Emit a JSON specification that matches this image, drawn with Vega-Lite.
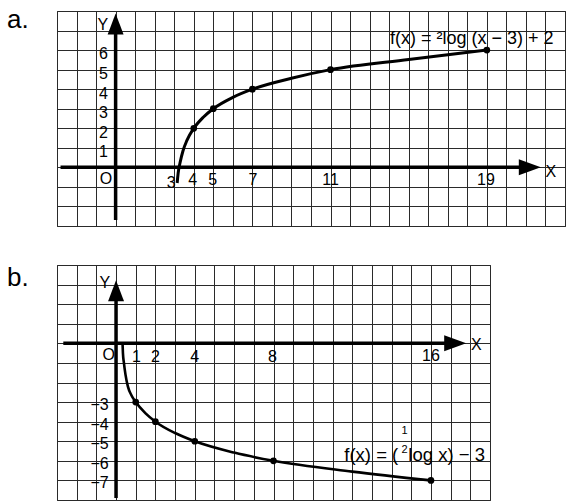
{
  "$schema": "https://vega.github.io/schema/vega-lite/v6.json",
  "background": "white",
  "padding": {"left": 6, "top": 6, "right": 5, "bottom": 5},
  "autosize": {"type": "pad"},
  "bounds": "flush",
  "spacing": 39,
  "config": {
    "view": {"stroke": "#222", "strokeWidth": 1},
    "axis": {"grid": true, "labels": false, "ticks": false, "domain": false, "gridColor": "#2a2a2a", "gridOpacity": 1, "gridWidth": 1},
    "text": {"font": "Liberation Sans", "color": "black"}
  },
  "datasets": {
    "a_axes": [{"x": -2.82, "x2": 20.8, "y": 0, "y2": 0}, {"x": 0, "x2": 0, "y": -2.69, "y2": 6.9}],
    "a_arrows": [{"x": 21.2, "y": 0, "dir": "right"}, {"x": 0, "y": 7.34, "dir": "up"}],
    "a_curve": [
      {"x": 3.15, "y": -0.8}, {"x": 3.2, "y": -0.3}, {"x": 3.3, "y": 0.25}, {"x": 3.45, "y": 0.85},
      {"x": 3.65, "y": 1.38}, {"x": 4, "y": 2}, {"x": 4.5, "y": 2.58}, {"x": 5, "y": 3},
      {"x": 6, "y": 3.58}, {"x": 7, "y": 4}, {"x": 9, "y": 4.56}, {"x": 11, "y": 5},
      {"x": 15, "y": 5.52}, {"x": 19, "y": 6}
    ],
    "a_pts": [{"x": 4, "y": 2}, {"x": 5, "y": 3}, {"x": 7, "y": 4}, {"x": 11, "y": 5}, {"x": 19, "y": 6}],
    "a_text": [
      {"t": "1", "x": -0.4, "y": 0.83, "kind": "yl"},
      {"t": "2", "x": -0.4, "y": 1.83, "kind": "yl"},
      {"t": "3", "x": -0.4, "y": 2.83, "kind": "yl"},
      {"t": "4", "x": -0.4, "y": 3.83, "kind": "yl"},
      {"t": "5", "x": -0.4, "y": 4.83, "kind": "yl"},
      {"t": "6", "x": -0.4, "y": 5.83, "kind": "yl"},
      {"t": "3", "x": 2.84, "y": -0.73, "kind": "c"},
      {"t": "4", "x": 3.95, "y": -0.6, "kind": "c"},
      {"t": "5", "x": 4.97, "y": -0.6, "kind": "c"},
      {"t": "7", "x": 7.03, "y": -0.6, "kind": "c"},
      {"t": "11", "x": 11.0, "y": -0.6, "kind": "c"},
      {"t": "19", "x": 18.95, "y": -0.6, "kind": "c"},
      {"t": "O", "x": -0.49, "y": -0.52, "kind": "c"},
      {"t": "Y", "x": -0.65, "y": 7.36, "kind": "c"},
      {"t": "X", "x": 22.28, "y": -0.18, "kind": "c"},
      {"t": "f(x) = ²log (x − 3) + 2", "x": 14.04, "y": 6.64, "kind": "fl"},
      {"t": "a.", "x": -5.56, "y": 7.14, "kind": "big"}
    ],
    "b_axes": [{"x": -2.68, "x2": 16.8, "y": 0, "y2": 0}, {"x": 0, "x2": 0, "y": -7.9, "y2": 2.3}],
    "b_arrows": [{"x": 17.23, "y": 0, "dir": "right"}, {"x": 0, "y": 2.69, "dir": "up"}],
    "b_curve": [
      {"x": 0.33, "y": 0}, {"x": 0.35, "y": -0.5}, {"x": 0.4, "y": -1}, {"x": 0.48, "y": -1.6},
      {"x": 0.6, "y": -2.2}, {"x": 0.78, "y": -2.65}, {"x": 1, "y": -3}, {"x": 1.5, "y": -3.58},
      {"x": 2, "y": -4}, {"x": 3, "y": -4.58}, {"x": 4, "y": -5}, {"x": 6, "y": -5.58},
      {"x": 8, "y": -6}, {"x": 12, "y": -6.55}, {"x": 16, "y": -7}
    ],
    "b_pts": [{"x": 1, "y": -3}, {"x": 2, "y": -4}, {"x": 4, "y": -5}, {"x": 8, "y": -6}, {"x": 16, "y": -7}],
    "b_text": [
      {"t": "−3", "x": -0.37, "y": -3.1, "kind": "yl"},
      {"t": "−4", "x": -0.37, "y": -4.1, "kind": "yl"},
      {"t": "−5", "x": -0.37, "y": -5.1, "kind": "yl"},
      {"t": "−6", "x": -0.37, "y": -6.1, "kind": "yl"},
      {"t": "−7", "x": -0.37, "y": -7.1, "kind": "yl"},
      {"t": "1", "x": 1.04, "y": -0.63, "kind": "c"},
      {"t": "2", "x": 2.0, "y": -0.63, "kind": "c"},
      {"t": "4", "x": 4.0, "y": -0.63, "kind": "c"},
      {"t": "8", "x": 7.95, "y": -0.63, "kind": "c"},
      {"t": "16", "x": 16.0, "y": -0.6, "kind": "c"},
      {"t": "O", "x": -0.37, "y": -0.54, "kind": "c"},
      {"t": "Y", "x": -0.57, "y": 3.11, "kind": "c"},
      {"t": "X", "x": 18.3, "y": -0.03, "kind": "c"},
      {"t": "f(x) = (", "x": 14.34, "y": -5.66, "kind": "fr"},
      {"t": "log x) − 3", "x": 14.85, "y": -5.66, "kind": "fl"},
      {"t": "2", "x": 14.66, "y": -5.39, "kind": "sm"},
      {"t": "1", "x": 14.66, "y": -4.45, "kind": "sm"},
      {"t": "b.", "x": -5.54, "y": 2.91, "kind": "big"}
    ]
  },
  "vconcat": [
    {
      "width": 508,
      "height": 215,
      "encoding": {
        "x": {"field": "x", "type": "quantitative", "title": null, "scale": {"domain": [-3, 23], "nice": false, "zero": false},
              "axis": {"values": [-3,-2,-1,0,1,2,3,4,5,6,7,8,9,10,11,12,13,14,15,16,17,18,19,20,21,22,23]}},
        "y": {"field": "y", "type": "quantitative", "title": null, "scale": {"domain": [-3, 8], "nice": false, "zero": false},
              "axis": {"values": [-3,-2,-1,0,1,2,3,4,5,6,7,8]}}
      },
      "layer": [
        {"data": {"name": "a_axes"}, "mark": {"type": "rule", "strokeWidth": 3.5, "color": "black"},
         "encoding": {"x2": {"field": "x2"}, "y2": {"field": "y2"}}},
        {"data": {"name": "a_arrows"}, "transform": [{"filter": "datum.dir === 'right'"}],
         "mark": {"type": "point", "shape": "M1,0L-1,-0.727L-1,0.727Z", "size": 484, "filled": true, "color": "black", "opacity": 1, "strokeWidth": 0}},
        {"data": {"name": "a_arrows"}, "transform": [{"filter": "datum.dir === 'up'"}],
         "mark": {"type": "point", "shape": "M0,-1L0.76,1L-0.76,1Z", "size": 441, "filled": true, "color": "black", "opacity": 1, "strokeWidth": 0}},
        {"data": {"name": "a_curve"}, "mark": {"type": "line", "interpolate": "monotone", "strokeWidth": 3, "color": "black"}},
        {"data": {"name": "a_pts"}, "mark": {"type": "point", "filled": true, "size": 45, "color": "black", "opacity": 1}},
        {"data": {"name": "a_text"}, "transform": [{"filter": "datum.kind === 'yl'"}],
         "mark": {"type": "text", "align": "right", "baseline": "middle", "dy": 1, "fontSize": 16},
         "encoding": {"text": {"field": "t"}}},
        {"data": {"name": "a_text"}, "transform": [{"filter": "datum.kind === 'c'"}],
         "mark": {"type": "text", "align": "center", "baseline": "middle", "dy": 1, "fontSize": 16},
         "encoding": {"text": {"field": "t"}}},
        {"data": {"name": "a_text"}, "transform": [{"filter": "datum.kind === 'fl'"}],
         "mark": {"type": "text", "align": "left", "baseline": "middle", "dy": 1, "fontSize": 18},
         "encoding": {"text": {"field": "t"}}},
        {"data": {"name": "a_text"}, "transform": [{"filter": "datum.kind === 'big'"}],
         "mark": {"type": "text", "align": "left", "baseline": "alphabetic", "fontSize": 26},
         "encoding": {"text": {"field": "t"}}}
      ]
    },
    {
      "width": 433,
      "height": 235,
      "encoding": {
        "x": {"field": "x", "type": "quantitative", "title": null, "scale": {"domain": [-3, 19], "nice": false, "zero": false},
              "axis": {"values": [-3,-2,-1,0,1,2,3,4,5,6,7,8,9,10,11,12,13,14,15,16,17,18,19]}},
        "y": {"field": "y", "type": "quantitative", "title": null, "scale": {"domain": [-8, 4], "nice": false, "zero": false},
              "axis": {"values": [-8,-7,-6,-5,-4,-3,-2,-1,0,1,2,3,4]}}
      },
      "layer": [
        {"data": {"name": "b_axes"}, "mark": {"type": "rule", "strokeWidth": 3.5, "color": "black"},
         "encoding": {"x2": {"field": "x2"}, "y2": {"field": "y2"}}},
        {"data": {"name": "b_arrows"}, "transform": [{"filter": "datum.dir === 'right'"}],
         "mark": {"type": "point", "shape": "M1,0L-1,-0.727L-1,0.727Z", "size": 484, "filled": true, "color": "black", "opacity": 1, "strokeWidth": 0}},
        {"data": {"name": "b_arrows"}, "transform": [{"filter": "datum.dir === 'up'"}],
         "mark": {"type": "point", "shape": "M0,-1L0.76,1L-0.76,1Z", "size": 441, "filled": true, "color": "black", "opacity": 1, "strokeWidth": 0}},
        {"data": {"name": "b_curve"}, "mark": {"type": "line", "interpolate": "monotone", "strokeWidth": 2.6, "color": "black"}},
        {"data": {"name": "b_pts"}, "mark": {"type": "point", "filled": true, "size": 45, "color": "black", "opacity": 1}},
        {"data": {"name": "b_text"}, "transform": [{"filter": "datum.kind === 'yl'"}],
         "mark": {"type": "text", "align": "right", "baseline": "middle", "dy": 1, "fontSize": 16},
         "encoding": {"text": {"field": "t"}}},
        {"data": {"name": "b_text"}, "transform": [{"filter": "datum.kind === 'c'"}],
         "mark": {"type": "text", "align": "center", "baseline": "middle", "dy": 1, "fontSize": 16},
         "encoding": {"text": {"field": "t"}}},
        {"data": {"name": "b_text"}, "transform": [{"filter": "datum.kind === 'fl'"}],
         "mark": {"type": "text", "align": "left", "baseline": "middle", "dy": 1, "fontSize": 18.5},
         "encoding": {"text": {"field": "t"}}},
        {"data": {"name": "b_text"}, "transform": [{"filter": "datum.kind === 'fr'"}],
         "mark": {"type": "text", "align": "right", "baseline": "middle", "dy": 1, "fontSize": 18.5},
         "encoding": {"text": {"field": "t"}}},
        {"data": {"name": "b_text"}, "transform": [{"filter": "datum.kind === 'sm'"}],
         "mark": {"type": "text", "align": "center", "baseline": "middle", "dy": 1, "fontSize": 11},
         "encoding": {"text": {"field": "t"}}},
        {"data": {"name": "b_text"}, "transform": [{"filter": "datum.kind === 'big'"}],
         "mark": {"type": "text", "align": "left", "baseline": "alphabetic", "fontSize": 26},
         "encoding": {"text": {"field": "t"}}}
      ]
    }
  ]
}
